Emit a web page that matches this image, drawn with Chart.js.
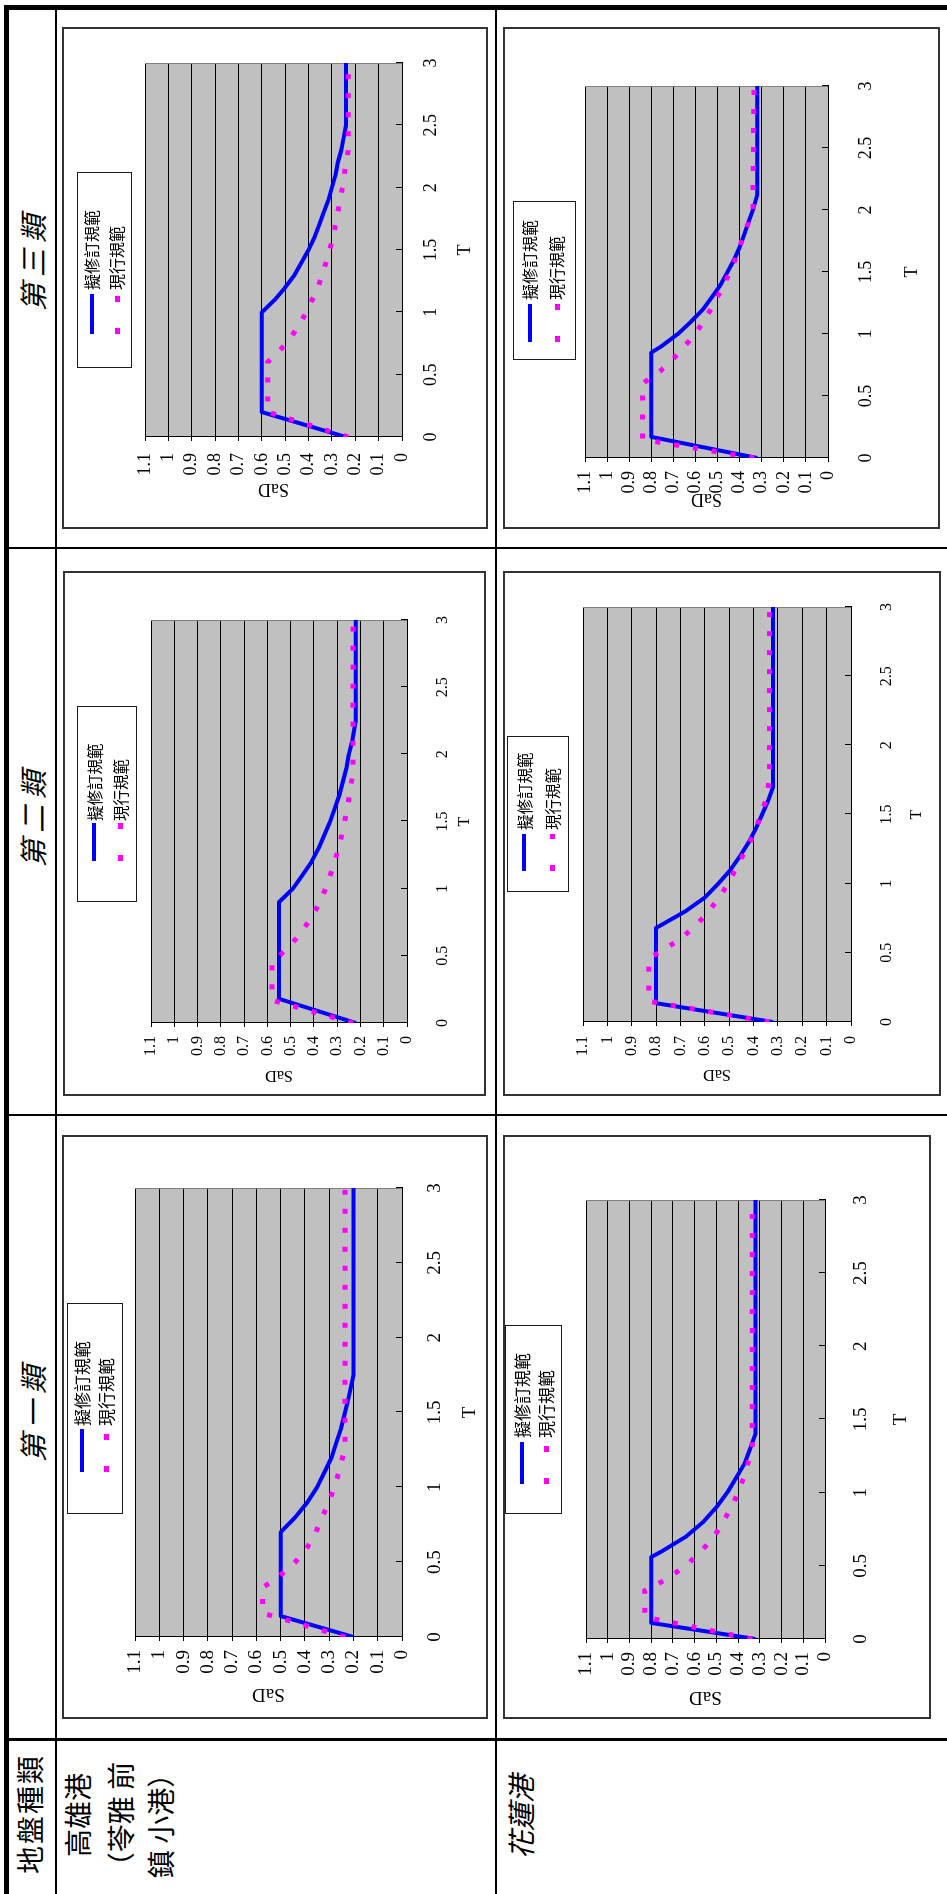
<!DOCTYPE html>
<html>
<head>
<meta charset="utf-8">
<title>地盤種類 設計反應譜比較</title>
<script src="https://cdn.jsdelivr.net/npm/chart.js@4.4.1/dist/chart.umd.min.js"></script>
<style>
  html, body { margin: 0; padding: 0; background: #fff; overflow: hidden; }
  body { width: 947px; height: 1894px; position: relative; }
  /* the table is laid out landscape and turned a quarter turn to fit the portrait page */
  #sheet {
    position: absolute; left: 0; top: 0; width: 1894px; height: 947px;
    transform-origin: 0 0; transform: translate(0px, 1894px) rotate(-90deg);
    background: #fff; overflow: hidden;
  }
  .rule { position: absolute; background: #000; }
  .frame { position: absolute; box-sizing: border-box; border: 2px solid #333; background: #fff; }
  .frame canvas { position: absolute; left: 0; top: 0; }
  .legend { position: absolute; box-sizing: border-box; border: 1px solid #1a1a1a; background: #fff; }
  .legend .txt { position: absolute; white-space: nowrap; font-family: "Noto Sans CJK TC", "Noto Sans CJK SC", sans-serif; color: #000; }
  .legend .smp { position: absolute; }
  .hdr { position: absolute; font-family: "Noto Sans CJK TC", sans-serif; color: #000; white-space: nowrap; }
</style>
</head>
<body>
<div id="sheet"></div>
<script>
// ---- axis ticks ----
const T_TICKS = [0, 0.5, 1, 1.5, 2, 2.5, 3];
const SA_TICKS = [0, 0.1, 0.2, 0.3, 0.4, 0.5, 0.6, 0.7, 0.8, 0.9, 1, 1.1];
const SERIES_NAMES = ['擬修訂規範', '現行規範'];

// ---- 高雄港 第一類 ----
const KH1_NEW_T  = [0, 0.14, 0.7, 0.8, 0.9, 1.0, 1.1, 1.2, 1.3, 1.4, 1.5, 1.6, 1.75, 3];
const KH1_NEW_SA = [0.2, 0.5, 0.5, 0.44, 0.39, 0.35, 0.32, 0.29, 0.27, 0.25, 0.235, 0.22, 0.2, 0.2];
const KH1_OLD_T  = [0, 0.16, 0.33, 0.4, 0.5, 0.6, 0.7, 0.8, 0.9, 1.0, 1.1, 1.2, 1.27, 3];
const KH1_OLD_SA = [0.235, 0.575, 0.575, 0.51, 0.44, 0.39, 0.355, 0.33, 0.3, 0.28, 0.26, 0.245, 0.235, 0.235];

// ---- 花蓮港 第一類 ----
const HL1_NEW_T  = [0, 0.11, 0.56, 0.6, 0.7, 0.8, 0.9, 1.0, 1.1, 1.2, 1.3, 1.4, 3];
const HL1_NEW_SA = [0.32, 0.8, 0.8, 0.75, 0.64, 0.56, 0.5, 0.45, 0.41, 0.37, 0.345, 0.32, 0.32];
const HL1_OLD_T  = [0, 0.15, 0.33, 0.4, 0.5, 0.6, 0.7, 0.8, 0.9, 1.0, 1.1, 1.2, 1.3, 3];
const HL1_OLD_SA = [0.335, 0.83, 0.83, 0.74, 0.64, 0.57, 0.51, 0.47, 0.43, 0.4, 0.375, 0.355, 0.335, 0.335];

// ---- 高雄港 第二類 ----
const KH2_NEW_T  = [0, 0.18, 0.9, 1.0, 1.1, 1.2, 1.3, 1.4, 1.5, 1.6, 1.7, 1.8, 1.9, 2.0, 2.1, 2.25, 3];
const KH2_NEW_SA = [0.22, 0.55, 0.55, 0.49, 0.45, 0.41, 0.38, 0.355, 0.33, 0.31, 0.29, 0.275, 0.26, 0.25, 0.235, 0.22, 0.22];
const KH2_OLD_T  = [0, 0.17, 0.46, 0.5, 0.6, 0.7, 0.8, 0.9, 1.0, 1.1, 1.2, 1.3, 1.4, 1.5, 1.6, 1.7, 1.8, 1.85, 3];
const KH2_OLD_SA = [0.232, 0.58, 0.58, 0.548, 0.49, 0.445, 0.405, 0.375, 0.35, 0.33, 0.31, 0.295, 0.28, 0.268, 0.257, 0.247, 0.238, 0.232, 0.232];

// ---- 花蓮港 第二類 ----
const HL2_NEW_T  = [0, 0.136, 0.68, 0.7, 0.8, 0.9, 1.0, 1.1, 1.2, 1.3, 1.4, 1.5, 1.6, 1.7, 3];
const HL2_NEW_SA = [0.32, 0.8, 0.8, 0.78, 0.68, 0.6, 0.545, 0.495, 0.455, 0.42, 0.39, 0.365, 0.34, 0.32, 0.32];
const HL2_OLD_T  = [0, 0.15, 0.46, 0.5, 0.6, 0.7, 0.8, 0.9, 1.0, 1.1, 1.2, 1.3, 1.4, 1.5, 1.6, 1.7, 1.75, 3];
const HL2_OLD_SA = [0.335, 0.83, 0.83, 0.79, 0.7, 0.635, 0.585, 0.54, 0.505, 0.475, 0.445, 0.415, 0.39, 0.37, 0.35, 0.34, 0.335, 0.335];

// ---- 高雄港 第三類 ----
const KH3_NEW_T  = [0, 0.2, 1.0, 1.1, 1.2, 1.3, 1.4, 1.5, 1.6, 1.7, 1.8, 1.9, 2.0, 2.1, 2.2, 2.3, 2.4, 2.5, 3];
const KH3_NEW_SA = [0.24, 0.6, 0.6, 0.545, 0.5, 0.46, 0.43, 0.4, 0.375, 0.355, 0.335, 0.315, 0.3, 0.285, 0.275, 0.26, 0.25, 0.24, 0.24];
const KH3_OLD_T  = [0, 0.2, 0.6, 0.7, 0.8, 0.9, 1.0, 1.2, 1.4, 1.6, 1.8, 2.0, 2.2, 2.3, 3];
const KH3_OLD_SA = [0.23, 0.575, 0.575, 0.52, 0.475, 0.44, 0.41, 0.36, 0.325, 0.295, 0.275, 0.255, 0.24, 0.23, 0.23];

// ---- 花蓮港 第三類 ----
const HL3_NEW_T  = [0, 0.17, 0.85, 0.9, 1.0, 1.1, 1.2, 1.3, 1.4, 1.5, 1.6, 1.7, 1.8, 1.9, 2.0, 2.125, 3];
const HL3_NEW_SA = [0.32, 0.8, 0.8, 0.755, 0.68, 0.62, 0.565, 0.525, 0.485, 0.455, 0.425, 0.4, 0.38, 0.36, 0.34, 0.32, 0.32];
const HL3_OLD_T  = [0, 0.15, 0.6, 0.7, 0.8, 0.9, 1.0, 1.2, 1.4, 1.6, 1.8, 2.0, 3];
const HL3_OLD_SA = [0.335, 0.84, 0.84, 0.76, 0.7, 0.65, 0.6, 0.53, 0.47, 0.42, 0.38, 0.34, 0.335];

// ---- series styles ----
const NEW_STYLE = { color: '#0000ff', width: 4, dash: [] };
const OLD_STYLE = { color: '#ff00ff', width: 5, dash: [5, 14] };

// ---- panel geometry (landscape sheet coordinates: x along the row, y down the sheet) ----
const PANELS = [
  { newT: KH1_NEW_T, newSa: KH1_NEW_SA, oldT: KH1_OLD_T, oldSa: KH1_OLD_SA,
    frame: [175, 759, 62, 488], plot: [257, 706, 135, 402], font: 19,
    tLabelY: 435, tTitleY: 470, saLabelRight: 244, saTitleX: 200,
    legend: { box: [380, 591, 67, 123], rows: [82, 106], sample: [422, 465], textX: 468, size: 17 } },
  { newT: HL1_NEW_T, newSa: HL1_NEW_SA, oldT: HL1_OLD_T, oldSa: HL1_OLD_SA,
    frame: [175, 759, 503, 931], plot: [255, 694, 586, 825], font: 19,
    tLabelY: 861, tTitleY: 901, saLabelRight: 242, saTitleX: 197,
    legend: { box: [380, 569, 505, 562], rows: [522, 546], sample: [410, 452], textX: 456, size: 17 } },
  { newT: KH2_NEW_T, newSa: KH2_NEW_SA, oldT: KH2_OLD_T, oldSa: KH2_OLD_SA,
    frame: [798, 1323, 63, 486], plot: [871, 1274, 151, 407], font: 16,
    tLabelY: 443, tTitleY: 465, saLabelRight: 858, saTitleX: 819,
    legend: { box: [992, 1188, 77, 137], rows: [94, 120], sample: [1033, 1071], textX: 1073, size: 15.5 } },
  { newT: HL2_NEW_T, newSa: HL2_NEW_SA, oldT: HL2_OLD_T, oldSa: HL2_OLD_SA,
    frame: [798, 1323, 503, 941], plot: [872, 1287, 583, 851], font: 16,
    tLabelY: 887, tTitleY: 917, saLabelRight: 858, saTitleX: 820,
    legend: { box: [1002, 1158, 507, 569], rows: [524, 552], sample: [1023, 1060], textX: 1064, size: 15.5 } },
  { newT: KH3_NEW_T, newSa: KH3_NEW_SA, oldT: KH3_OLD_T, oldSa: KH3_OLD_SA,
    frame: [1365, 1867, 62, 488], plot: [1457, 1831, 145, 402], font: 18,
    tLabelY: 431, tTitleY: 465, saLabelRight: 1441, saTitleX: 1405,
    legend: { box: [1526, 1722, 77, 132], rows: [92, 117], sample: [1560, 1600], textX: 1604, size: 16 } },
  { newT: HL3_NEW_T, newSa: HL3_NEW_SA, oldT: HL3_OLD_T, oldSa: HL3_OLD_SA,
    frame: [1365, 1867, 503, 940], plot: [1436, 1808, 585, 828], font: 18,
    tLabelY: 866, tTitleY: 912, saLabelRight: 1423, saTitleX: 1395,
    legend: { box: [1534, 1693, 513, 576], rows: [530, 557], sample: [1552, 1590], textX: 1594, size: 16 } }
];

const BORDER = 2;
const sheet = document.getElementById('sheet');

// table rules
function rule(x, y, w, h) {
  const d = document.createElement('div');
  d.className = 'rule';
  Object.assign(d.style, { left: x + 'px', top: y + 'px', width: w + 'px', height: h + 'px' });
  sheet.appendChild(d);
}
rule(0, 4, 1889, 5);       // outer edge
rule(1884, 4, 5, 943);     // outer edge
rule(0, 55, 1884, 2);      // under the heading row
rule(0, 495, 1884, 2);     // between the two harbours
rule(153, 9, 3, 938);      // after the label column
rule(778, 9, 2, 938);      // 第一類 | 第二類
rule(1345, 9, 2, 938);     // 第二類 | 第三類

// heading texts
function text(str, cx, cy, size, extra) {
  const d = document.createElement('div');
  d.className = 'hdr';
  d.textContent = str;
  Object.assign(d.style, { left: cx + 'px', top: cy + 'px', fontSize: size + 'px', lineHeight: '1', transform: 'translate(-50%, -50%)' }, extra || {});
  sheet.appendChild(d);
}
text('地盤種類', 80, 29, 28, { letterSpacing: '2px' });
text('第 一 類', 480, 32, 28, { fontStyle: 'italic' });
text('第 二 類', 1075, 32, 28, { fontStyle: 'italic' });
text('第 三 類', 1631, 32, 28, { fontStyle: 'italic' });
text('高雄港', 79, 77, 28);
text('（苓雅 前', 73, 120, 28);
text('鎮 小港）', 75, 160, 28);
text('花蓮港', 77, 520, 28, { fontStyle: 'italic' });

// plot background, plot edge and inward T ticks
const plotDecor = {
  id: 'plotDecor',
  beforeDraw(chart) {
    const { ctx, chartArea: a } = chart;
    ctx.save();
    ctx.fillStyle = '#c0c0c0';
    ctx.fillRect(a.left, a.top, a.right - a.left, a.bottom - a.top);
    ctx.restore();
  },
  beforeDatasetsDraw(chart) {
    const { ctx, chartArea: a, scales } = chart;
    ctx.save();
    ctx.strokeStyle = '#808080';
    ctx.lineWidth = 1;
    ctx.beginPath();
    ctx.moveTo(Math.round(a.right) - 0.5, a.top);
    ctx.lineTo(Math.round(a.right) - 0.5, a.bottom);
    ctx.stroke();
    ctx.strokeStyle = '#000';
    ctx.beginPath();
    T_TICKS.forEach(v => {
      const px = Math.round(scales.x.getPixelForValue(v)) + 0.5;
      ctx.moveTo(px, a.bottom);
      ctx.lineTo(px, a.bottom - 6);
    });
    ctx.stroke();
    ctx.restore();
  }
};

function pts(ts, vals) { return ts.map((t, i) => ({ x: t, y: vals[i] })); }

function buildPanel(p) {
  const [u0, u1, v0, v1] = p.frame;
  const frame = document.createElement('div');
  frame.className = 'frame';
  Object.assign(frame.style, { left: u0 + 'px', top: v0 + 'px', width: (u1 - u0) + 'px', height: (v1 - v0) + 'px' });
  sheet.appendChild(frame);

  const ox = u0 + BORDER, oy = v0 + BORDER;
  const W = u1 - u0 - 2 * BORDER, H = v1 - v0 - 2 * BORDER;
  const canvas = document.createElement('canvas');
  canvas.width = W; canvas.height = H;
  canvas.style.width = W + 'px'; canvas.style.height = H + 'px';
  frame.appendChild(canvas);

  const L = p.plot[0] - ox, R = p.plot[1] - ox, T = p.plot[2] - oy, B = p.plot[3] - oy;
  const lh = p.font * 1.2;
  const font = { family: '"Liberation Serif", "DejaVu Serif", serif', size: p.font, lineHeight: 1.2 };
  const yTick = 4;

  new Chart(canvas, {
    type: 'line',
    data: {
      datasets: [
        { label: SERIES_NAMES[0], data: pts(p.newT, p.newSa), borderColor: NEW_STYLE.color, borderWidth: NEW_STYLE.width,
          borderDash: NEW_STYLE.dash, pointRadius: 0, tension: 0, order: 1, borderJoinStyle: 'round' },
        { label: SERIES_NAMES[1], data: pts(p.oldT, p.oldSa), borderColor: OLD_STYLE.color, borderWidth: OLD_STYLE.width,
          borderDash: OLD_STYLE.dash, borderCapStyle: 'butt', pointRadius: 0, tension: 0, order: 0 }
      ]
    },
    options: {
      responsive: false, animation: false, devicePixelRatio: 1,
      layout: { padding: { left: 0, top: T, right: W - R, bottom: 0 } },
      plugins: { legend: { display: false }, tooltip: { enabled: false } },
      scales: {
        x: {
          type: 'linear', min: 0, max: 3,
          afterBuildTicks: s => { s.ticks = T_TICKS.map(v => ({ value: v })); },
          afterFit: s => { s.height = H - B; },
          grid: { display: false, drawTicks: false, tickLength: 0 },
          border: { display: true, color: '#000', width: 1 },
          ticks: { color: '#000', font, padding: (p.tLabelY - oy) - B - lh / 2, maxRotation: 0, autoSkip: false,
                   callback: v => String(v) },
          title: { display: true, text: 'T', color: '#000', font,
                   padding: { top: 0, bottom: H - (p.tTitleY - oy) - lh / 2 } }
        },
        y: {
          type: 'linear', min: 0, max: 1.1,
          afterBuildTicks: s => { s.ticks = SA_TICKS.map(v => ({ value: v })); },
          afterFit: s => { s.width = L; },
          grid: { display: true, color: '#000', lineWidth: 1, drawTicks: true, tickLength: yTick },
          border: { display: true, color: '#000', width: 1 },
          ticks: { color: '#000', font, padding: L - (p.saLabelRight - ox) - yTick, autoSkip: false,
                   callback: v => String(v) },
          title: { display: true, text: 'SaD', color: '#000', font,
                   padding: { top: (p.saTitleX - ox) - lh / 2, bottom: 0 } }
        }
      }
    },
    plugins: [plotDecor]
  });

  // legend box
  const lg = p.legend;
  const box = document.createElement('div');
  box.className = 'legend';
  Object.assign(box.style, { left: lg.box[0] + 'px', top: lg.box[2] + 'px',
    width: (lg.box[1] - lg.box[0]) + 'px', height: (lg.box[3] - lg.box[2]) + 'px' });
  sheet.appendChild(box);
  [NEW_STYLE, OLD_STYLE].forEach((st, i) => {
    const cy = lg.rows[i] - lg.box[2] - 1;
    const smp = document.createElement('div');
    smp.className = 'smp';
    const len = lg.sample[1] - lg.sample[0];
    Object.assign(smp.style, { left: (lg.sample[0] - lg.box[0] - 1) + 'px', top: (cy - st.width / 2) + 'px',
      width: len + 'px', height: st.width + 'px' });
    smp.style.background = st.dash.length
      ? `repeating-linear-gradient(90deg, ${st.color} 0 6px, transparent 6px 32px)`
      : st.color;
    box.appendChild(smp);
    const tx = document.createElement('div');
    tx.className = 'txt';
    tx.textContent = SERIES_NAMES[i];
    Object.assign(tx.style, { left: (lg.textX - lg.box[0] - 1) + 'px', top: (cy - lg.size * 0.6) + 'px',
      fontSize: lg.size + 'px', lineHeight: (lg.size * 1.2) + 'px' });
    box.appendChild(tx);
  });
}

PANELS.forEach(buildPanel);
</script>
</body>
</html>
